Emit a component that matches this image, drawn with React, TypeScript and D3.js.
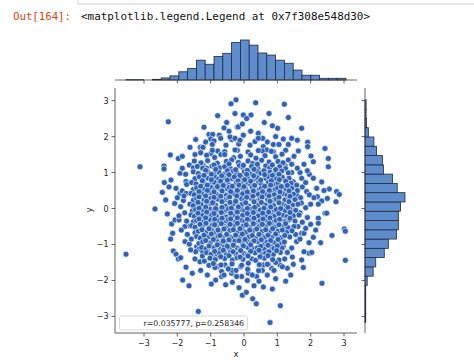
import React from 'react';
import * as d3 from 'd3';

const promptText = 'Out[164]:';
const outText = '<matplotlib.legend.Legend at 0x7f308e548d30>';
const legendText = 'r=0.035777, p=0.258346';
const xLabel = 'x';
const yLabel = 'y';

const xTicks = [-3, -2, -1, 0, 1, 2, 3];
const yTicks = [-3, -2, -1, 0, 1, 2, 3];

// marginal histograms (counts per bin)
const xHistRange = [-3.54, 3.06];
const xHistCounts = [1, 1, 0, 2, 6, 12, 24, 34, 58, 46, 69, 78, 110, 117, 102, 79, 73, 58, 49, 29, 14, 14, 5, 5, 5];
const yHistRange = [-3.17, 3.02];
const yHistCounts = [2, 2, 2, 2, 6, 22, 29, 52, 63, 85, 90, 90, 96, 108, 87, 74, 50, 47, 31, 24, 9, 4, 3, 3];

// scatter: sparse outer points
const outerPoints: [number, number][] = [
  [-3.12, 1.16], [-2.27, 2.41], [-2.67, -0.01], [-2.4, 1.18], [-2.4, 1.1], [-2.21, 1.49], [-1.97, 1.39], [-2.39, 0.72],
  [-2.19, 0.79], [-1.92, 0.98], [-2.35, 0.24], [-2.08, 0.14], [-2.25, 0.6], [-2.04, 0.56], [-1.92, 0.42], [-1.85, 0.49],
  [-1.74, 0.42], [-1.74, 0.75], [-1.72, 0.67], [-1.64, 1.21], [-1.52, 1.13], [-1.49, 1.32], [-1.47, 1.5], [-1.45, 1.92],
  [-1.31, 1.7], [-1.23, 1.7], [-1.2, 2.26], [-1.05, 2.06], [-0.94, 2.06], [-1.0, 1.93], [-0.9, 1.88], [-1.11, 1.47],
  [-0.99, 1.53], [-0.79, 2.58], [-0.74, 2.04], [-0.7, 1.95], [-0.52, 2.39], [-0.6, 2.24], [-0.39, 2.91], [-0.24, 3.02],
  [-0.27, 2.64], [-0.2, 2.26], [-0.54, 1.76], [-0.37, 1.92], [-0.16, 1.79], [-0.79, 1.6], [-0.69, 1.5], [-1.22, 1.19],
  [-1.12, 1.12], [-0.42, 1.99], [-0.27, 1.95], [-0.02, 2.04], [-0.12, 1.9], [0.18, 1.76], [0.33, 1.86], [0.58, 1.72],
  [0.68, 1.63], [0.88, 1.58],
  [0.35, 2.94], [1.21, 2.9], [-0.02, 2.6], [0.21, 2.6], [0.08, 2.5], [0.75, 2.64], [1.33, 2.53], [-0.17, 2.27],
  [-0.05, 2.35], [0.61, 2.39], [1.01, 2.23], [1.73, 2.23], [0.43, 2.09], [0.56, 1.95], [0.43, 1.95], [1.18, 1.93],
  [1.43, 1.95], [0.88, 1.78], [1.05, 1.78], [1.33, 1.78], [1.91, 1.84], [1.91, 1.72], [2.43, 1.67], [1.63, 1.6],
  [2.01, 1.46], [2.53, 1.39], [2.08, 1.3], [1.8, 1.23], [2.53, 1.16], [1.33, 1.35], [1.43, 1.23], [1.23, 1.19],
  [1.43, 1.0], [1.68, 1.0], [1.73, 0.84], [1.96, 0.95], [2.08, 0.84], [2.33, 0.74], [1.48, 0.74], [1.58, 0.65],
  [2.18, 0.56], [2.56, 0.54], [2.78, 0.47], [2.86, 0.39], [1.88, 0.47], [1.96, 0.38], [2.2, 0.33], [1.58, 0.38],
  [1.7, 0.3], [2.5, 0.28], [2.33, 0.21], [2.76, 0.19], [2.23, 0.12], [2.0, 0.12], [2.43, -0.13],
  [3.01, -0.57], [3.04, -0.63], [2.64, -0.75], [3.04, -1.44], [2.34, -2.08], [2.48, -0.13], [2.23, -0.27], [2.23, -0.41],
  [2.0, -0.44], [2.08, -0.8], [1.73, -0.69], [1.8, -0.69], [1.95, -1.24], [2.03, -1.22], [1.8, -1.2], [1.73, -1.43],
  [1.78, -1.64], [1.48, -1.55], [1.3, -1.66], [1.08, -1.57], [1.05, -1.43], [0.83, -1.66], [0.58, -2.18], [0.85, -2.24],
  [-0.05, -2.41], [0.07, -2.33], [0.26, -2.51], [0.37, -2.65], [1.09, -2.7], [0.78, -3.17], [0.38, -1.89], [0.13, -1.8],
  [-0.07, -1.89], [0.58, -1.57], [0.73, -1.55], [1.18, -1.06], [1.43, -1.1], [1.58, -0.92],
  [-3.54, -1.27], [-1.37, -2.86], [-1.84, -1.99], [-0.85, -1.99], [-2.17, -0.43], [-2.14, -0.69], [-2.07, -0.32], [-1.95, -0.32],
  [-1.77, -0.5], [-1.62, -0.48], [-1.77, -0.92], [-1.64, -0.99], [-2.12, -1.18], [-2.04, -1.27], [-1.97, -1.4], [-1.9, -1.37],
  [-1.74, -1.63], [-1.47, -1.4], [-1.32, -1.48], [-1.19, -1.46], [-0.92, -1.34], [-0.8, -1.27], [-0.8, -1.62], [-0.87, -1.64],
  [-0.57, -1.57], [-0.47, -1.66], [-0.67, -1.75], [-0.37, -1.8], [-0.22, -1.89], [-0.67, -1.89], [-0.6, -1.85],
  [-1.42, -1.06], [-1.35, -1.13], [-1.24, -1.2], [-1.1, -1.15],
  [-1.82, 0.22], [-1.9, 0.05], [-1.78, -0.12], [-1.95, -0.2], [-1.72, -0.35], [-1.88, -0.6], [-1.7, -0.72], [-1.58, -0.85],
  [-1.8, 0.35], [-2.0, 0.3], [-1.75, 0.95], [-1.85, 1.12], [-2.3, -0.15], [-2.45, 0.45], [-2.2, -0.85], [-1.45, -1.2],
  [-1.6, -1.15], [-1.25, -1.32],
  [1.72, 0.15], [1.85, 0.02], [1.68, -0.12], [1.9, -0.25], [1.75, -0.38], [1.62, -0.5], [1.85, -0.55], [1.55, -0.72],
  [1.68, -0.85], [1.95, -0.95], [1.6, 0.5], [1.75, 0.6], [1.85, 0.72], [1.6, 1.12], [1.5, 1.45], [2.15, -0.6],
  [2.3, -0.95], [2.4, 0.5], [2.1, 0.3], [1.9, 1.05],
  [1.3, -1.22], [1.45, -1.35], [1.22, -1.4], [0.95, -1.5], [1.15, -1.62], [0.9, -1.72], [0.55, -1.72], [0.7, -1.85],
  [0.25, -1.85], [0.1, -2.0], [0.45, -2.02], [-0.35, -2.05], [-0.55, -2.12], [-1.1, -1.85], [-1.3, -1.72], [-1.05, -1.58],
  [-0.98, -2.1], [0.3, -2.15], [-0.15, -2.2], [0.95, -1.95], [1.4, -1.85], [1.25, -2.02], [-1.55, -1.8], [-1.65, -2.15],
  [-0.35, -1.72], [-0.1, -1.62],
  [-1.3, 1.55], [-1.62, 1.7], [-1.85, 1.45], [-0.95, 1.78], [-1.15, 1.85], [0.7, 1.85], [0.95, 2.0], [0.2, 2.15],
  [-0.45, 2.15], [0.85, 2.3], [1.6, 1.9], [1.25, 1.62], [-0.2, 1.62], [0.55, 1.6],
];

// scatter: dense core points
const corePoints: [number, number][] = [
  [-0.95, 1.62], [-0.58, 1.58], [-0.27, 1.63], [0.12, 1.57], [0.43, 1.61], [0.82, 1.59],
  [-1.12, 1.48], [-0.88, 1.42], [-0.58, 1.5], [-0.31, 1.41], [-0.11, 1.45], [0.2, 1.49], [0.36, 1.4], [0.63, 1.47], [0.95, 1.44], [1.14, 1.51],
  [-1.29, 1.27], [-1.09, 1.33], [-0.8, 1.26], [-0.53, 1.31], [-0.37, 1.35], [-0.17, 1.28], [0.12, 1.32], [0.25, 1.25], [0.53, 1.34], [0.75, 1.29], [1.02, 1.31], [1.17, 1.27],
  [-1.4, 1.17], [-1.24, 1.12], [-0.96, 1.18], [-0.73, 1.13], [-0.58, 1.16], [-0.41, 1.11], [-0.14, 1.19], [-0.03, 1.14], [0.23, 1.17], [0.42, 1.12], [0.65, 1.18], [0.77, 1.13], [1.07, 1.16], [1.25, 1.11],
  [-1.52, 1.02], [-1.37, 0.97], [-1.1, 1.03], [-0.87, 0.98], [-0.75, 1.01], [-0.58, 0.96], [-0.32, 1.04], [-0.22, 0.99], [0.01, 1.02], [0.18, 0.97], [0.4, 1.03], [0.5, 0.98], [0.78, 1.01], [0.9, 0.96], [1.13, 1.04], [1.33, 0.99],
  [-1.47, 0.83], [-1.34, 0.88], [-1.08, 0.84], [-0.87, 0.87], [-0.76, 0.82], [-0.61, 0.86], [-0.37, 0.83], [-0.29, 0.88], [-0.06, 0.84], [0.1, 0.87], [0.3, 0.82], [0.39, 0.86], [0.65, 0.84], [0.73, 0.89], [0.97, 0.83], [1.15, 0.87], [1.35, 0.84],
  [-1.57, 0.72], [-1.44, 0.68], [-1.2, 0.71], [-1.0, 0.67], [-0.89, 0.73], [-0.75, 0.69], [-0.52, 0.7], [-0.45, 0.66], [-0.23, 0.72], [-0.08, 0.68], [0.11, 0.71], [0.2, 0.67], [0.44, 0.73], [0.51, 0.69], [0.73, 0.72], [0.9, 0.68], [1.02, 0.71], [1.27, 0.67], [1.41, 0.7],
  [-1.52, 0.53], [-1.42, 0.57], [-1.18, 0.54], [-0.98, 0.58], [-0.88, 0.52], [-0.74, 0.56], [-0.51, 0.55], [-0.44, 0.59], [-0.22, 0.53], [-0.04, 0.57], [0.05, 0.54], [0.25, 0.58], [0.45, 0.52], [0.52, 0.56], [0.74, 0.55], [0.93, 0.53], [1.01, 0.57], [1.26, 0.54], [1.43, 0.56],
  [-1.59, 0.42], [-1.49, 0.38], [-1.26, 0.41], [-1.07, 0.37], [-0.97, 0.43], [-0.83, 0.39], [-0.6, 0.4], [-0.53, 0.36], [-0.31, 0.42], [-0.13, 0.38], [-0.04, 0.41], [0.16, 0.37], [0.36, 0.43], [0.43, 0.39], [0.65, 0.4], [0.84, 0.42], [0.91, 0.38], [1.17, 0.41], [1.29, 0.37], [1.48, 0.4],
  [-1.52, 0.23], [-1.42, 0.27], [-1.2, 0.24], [-1.01, 0.28], [-0.91, 0.22], [-0.77, 0.26], [-0.54, 0.25], [-0.47, 0.29], [-0.25, 0.23], [-0.07, 0.27], [0.02, 0.24], [0.22, 0.28], [0.42, 0.22], [0.49, 0.26], [0.71, 0.25], [0.9, 0.23], [0.97, 0.27], [1.23, 0.24], [1.35, 0.28], [1.53, 0.25],
  [-1.62, 0.12], [-1.52, 0.08], [-1.29, 0.11], [-1.09, 0.07], [-0.99, 0.13], [-0.85, 0.09], [-0.62, 0.1], [-0.55, 0.06], [-0.33, 0.12], [-0.15, 0.08], [-0.06, 0.11], [0.14, 0.07], [0.34, 0.13], [0.41, 0.09], [0.63, 0.1], [0.82, 0.12], [0.89, 0.08], [1.15, 0.11], [1.27, 0.07], [1.46, 0.1], [1.62, 0.12],
  [-1.55, -0.07], [-1.45, -0.03], [-1.22, -0.06], [-1.02, -0.02], [-0.91, -0.08], [-0.77, -0.04], [-0.54, -0.05], [-0.47, -0.01], [-0.25, -0.07], [-0.07, -0.03], [0.02, -0.06], [0.22, -0.02], [0.42, -0.08], [0.49, -0.04], [0.71, -0.05], [0.9, -0.07], [0.97, -0.03], [1.23, -0.06], [1.38, -0.02], [1.55, -0.05],
  [-1.59, -0.18], [-1.49, -0.22], [-1.26, -0.19], [-1.07, -0.23], [-0.97, -0.17], [-0.83, -0.21], [-0.6, -0.2], [-0.53, -0.24], [-0.31, -0.18], [-0.13, -0.22], [-0.04, -0.19], [0.16, -0.23], [0.36, -0.17], [0.43, -0.21], [0.65, -0.2], [0.84, -0.18], [0.91, -0.22], [1.17, -0.19], [1.29, -0.23], [1.48, -0.2], [1.65, -0.18],
  [-1.52, -0.37], [-1.42, -0.33], [-1.2, -0.36], [-1.01, -0.32], [-0.91, -0.38], [-0.77, -0.34], [-0.54, -0.35], [-0.47, -0.31], [-0.25, -0.37], [-0.07, -0.33], [0.02, -0.36], [0.22, -0.32], [0.42, -0.38], [0.49, -0.34], [0.71, -0.35], [0.9, -0.37], [0.97, -0.33], [1.23, -0.36], [1.35, -0.32], [1.53, -0.35],
  [-1.57, -0.48], [-1.47, -0.52], [-1.25, -0.49], [-1.06, -0.53], [-0.96, -0.47], [-0.82, -0.51], [-0.59, -0.5], [-0.52, -0.54], [-0.3, -0.48], [-0.12, -0.52], [-0.03, -0.49], [0.17, -0.53], [0.37, -0.47], [0.44, -0.51], [0.66, -0.5], [0.85, -0.48], [0.92, -0.52], [1.18, -0.49], [1.32, -0.53], [1.5, -0.5],
  [-1.47, -0.67], [-1.37, -0.63], [-1.15, -0.66], [-0.96, -0.62], [-0.86, -0.68], [-0.72, -0.64], [-0.49, -0.65], [-0.42, -0.61], [-0.2, -0.67], [-0.02, -0.63], [0.07, -0.66], [0.27, -0.62], [0.47, -0.68], [0.54, -0.64], [0.76, -0.65], [0.95, -0.67], [1.02, -0.63], [1.28, -0.66], [1.44, -0.62],
  [-1.42, -0.78], [-1.31, -0.82], [-1.08, -0.79], [-0.88, -0.83], [-0.78, -0.77], [-0.64, -0.81], [-0.41, -0.8], [-0.34, -0.84], [-0.12, -0.78], [0.06, -0.82], [0.15, -0.79], [0.35, -0.83], [0.55, -0.77], [0.62, -0.81], [0.84, -0.8], [1.03, -0.78], [1.11, -0.82], [1.37, -0.79],
  [-1.35, -0.97], [-1.24, -0.93], [-1.01, -0.96], [-0.81, -0.92], [-0.71, -0.98], [-0.57, -0.94], [-0.34, -0.95], [-0.27, -0.91], [-0.05, -0.97], [0.13, -0.93], [0.22, -0.96], [0.42, -0.92], [0.62, -0.98], [0.69, -0.94], [0.91, -0.95], [1.1, -0.97], [1.21, -0.93],
  [-1.27, -1.08], [-1.14, -1.12], [-0.9, -1.09], [-0.7, -1.13], [-0.59, -1.07], [-0.44, -1.11], [-0.2, -1.1], [-0.12, -1.14], [0.11, -1.08], [0.3, -1.12], [0.4, -1.09], [0.61, -1.13], [0.82, -1.07], [0.9, -1.11], [1.14, -1.1],
  [-1.12, -1.23], [-0.99, -1.27], [-0.74, -1.24], [-0.53, -1.28], [-0.41, -1.22], [-0.25, -1.26], [0.0, -1.25], [0.09, -1.29], [0.33, -1.23], [0.54, -1.27], [0.65, -1.24], [0.88, -1.28], [1.09, -1.22],
  [-1.02, -1.38], [-0.86, -1.42], [-0.58, -1.39], [-0.35, -1.43], [-0.21, -1.37], [-0.03, -1.41], [0.24, -1.4], [0.35, -1.44], [0.61, -1.38], [0.86, -1.42],
  [-0.92, -1.53], [-0.69, -1.57], [-0.36, -1.54], [-0.07, -1.58], [0.13, -1.52], [0.46, -1.56], [0.7, -1.55],
  [-0.47, -1.68], [-0.24, -1.72], [0.11, -1.69], [0.44, -1.73],
];

// scatter: second, offset layer filling the densest middle
const innerPoints: [number, number][] = [
  [-0.9, 1.21], [-0.45, 1.24], [-0.02, 1.2], [0.4, 1.23], [0.85, 1.21],
  [-1.15, 1.06], [-0.85, 1.09], [-0.5, 1.05], [-0.25, 1.08], [0.1, 1.06], [0.3, 1.09], [0.6, 1.05], [0.95, 1.08],
  [-1.2, 0.92], [-0.98, 0.95], [-0.67, 0.91], [-0.45, 0.94], [-0.12, 0.92], [0.08, 0.95], [0.29, 0.91], [0.62, 0.94], [0.85, 0.92], [1.05, 0.95],
  [-1.25, 0.77], [-0.98, 0.8], [-0.7, 0.76], [-0.5, 0.79], [-0.18, 0.77], [0.02, 0.8], [0.2, 0.76], [0.5, 0.79], [0.82, 0.77], [1.06, 0.8], [1.25, 0.76],
  [-1.3, 0.62], [-1.1, 0.65], [-0.8, 0.61], [-0.62, 0.64], [-0.35, 0.62], [-0.15, 0.65], [0.0, 0.61], [0.32, 0.64], [0.62, 0.62], [0.8, 0.65], [1.12, 0.61], [1.3, 0.64],
  [-1.35, 0.47], [-1.1, 0.5], [-0.9, 0.46], [-0.66, 0.49], [-0.4, 0.47], [-0.2, 0.5], [0.1, 0.46], [0.28, 0.49], [0.56, 0.47], [0.76, 0.5], [1.08, 0.46], [1.35, 0.49],
  [-1.35, 0.32], [-1.15, 0.35], [-0.9, 0.31], [-0.7, 0.34], [-0.43, 0.32], [-0.22, 0.35], [0.08, 0.31], [0.27, 0.34], [0.54, 0.32], [0.75, 0.35], [1.05, 0.31], [1.38, 0.34],
  [-1.38, 0.17], [-1.12, 0.2], [-0.94, 0.16], [-0.66, 0.19], [-0.42, 0.17], [-0.25, 0.2], [0.05, 0.16], [0.3, 0.19], [0.52, 0.17], [0.78, 0.2], [1.05, 0.16], [1.35, 0.19],
  [-1.35, 0.01], [-1.15, 0.04], [-0.85, 0.0], [-0.66, 0.03], [-0.38, 0.01], [-0.17, 0.04], [0.1, 0.0], [0.32, 0.03], [0.6, 0.01], [0.8, 0.04], [1.1, 0.0], [1.32, 0.03],
  [-1.38, -0.13], [-1.12, -0.1], [-0.9, -0.14], [-0.68, -0.11], [-0.4, -0.13], [-0.2, -0.1], [0.1, -0.14], [0.28, -0.11], [0.56, -0.13], [0.74, -0.1], [1.04, -0.14], [1.38, -0.11],
  [-1.35, -0.29], [-1.15, -0.26], [-0.88, -0.3], [-0.66, -0.27], [-0.4, -0.29], [-0.2, -0.26], [0.1, -0.3], [0.3, -0.27], [0.57, -0.29], [0.78, -0.26], [1.07, -0.3], [1.38, -0.27],
  [-1.32, -0.44], [-1.14, -0.41], [-0.88, -0.45], [-0.68, -0.42], [-0.42, -0.44], [-0.2, -0.41], [0.07, -0.45], [0.28, -0.42], [0.55, -0.44], [0.76, -0.41], [1.05, -0.45], [1.25, -0.42],
  [-1.26, -0.59], [-1.05, -0.56], [-0.78, -0.6], [-0.6, -0.57], [-0.32, -0.59], [-0.12, -0.56], [0.17, -0.6], [0.38, -0.57], [0.65, -0.59], [0.86, -0.56], [1.15, -0.6],
  [-1.2, -0.74], [-0.98, -0.71], [-0.72, -0.75], [-0.52, -0.72], [-0.25, -0.74], [-0.05, -0.71], [0.25, -0.75], [0.45, -0.72], [0.72, -0.74], [0.95, -0.71], [1.22, -0.75],
  [-1.15, -0.89], [-0.92, -0.86], [-0.62, -0.9], [-0.45, -0.87], [-0.15, -0.89], [0.03, -0.86], [0.3, -0.9], [0.52, -0.87], [0.8, -0.89], [1.02, -0.86],
  [-1.05, -1.04], [-0.8, -1.01], [-0.5, -1.05], [-0.32, -1.02], [-0.02, -1.04], [0.2, -1.01], [0.5, -1.05], [0.72, -1.02], [1.0, -1.04],
  [-0.88, -1.19], [-0.62, -1.16], [-0.33, -1.2], [-0.1, -1.17], [0.2, -1.19], [0.45, -1.16], [0.75, -1.2], [0.98, -1.17],
  [-0.7, -1.34], [-0.45, -1.31], [-0.12, -1.35], [0.12, -1.32], [0.48, -1.34], [0.72, -1.31],
];

const DOT = '#2f62b4';
const BAR = '#5f8ccb';
const BAR_EDGE = '#1c2b45';
const INK = '#262626';
const SPINE = '#3c3c3c';

export default function App() {
  const W = 474;
  const H = 364;

  const x = d3.scaleLinear().domain([-3.87, 3.39]).range([115, 357]);
  const y = d3.scaleLinear().domain([-3.46, 3.35]).range([333, 88]);
  const topH = d3.scaleLinear().domain([0, (d3.max(xHistCounts) as number) * 1.05]).range([80, 38]);
  const rightW = d3.scaleLinear().domain([0, (d3.max(yHistCounts) as number) * 1.05]).range([365, 407]);

  const xBinW = (xHistRange[1] - xHistRange[0]) / xHistCounts.length;
  const yBinW = (yHistRange[1] - yHistRange[0]) / yHistCounts.length;

  const allPoints = [...outerPoints, ...corePoints, ...innerPoints];
  const fmt = (v: number) => (v < 0 ? '\u2212' + Math.abs(v) : String(v));

  const font = "'DejaVu Sans', sans-serif";
  const mono = "'DejaVu Sans Mono', monospace";

  return (
    <svg width={W} height={H} viewBox={`0 0 ${W} ${H}`}
      style={{ position: 'absolute', left: 0, top: 0, background: '#fff' }}>
      <rect x={0} y={0} width={W} height={H} fill="#fff" />
      {/* notebook chrome */}
      <line x1={78} y1={0} x2={78} y2={4} stroke="#cfcfcf" strokeWidth={1} />
      <line x1={78} y1={4} x2={W} y2={4} stroke="#cfcfcf" strokeWidth={1} />
      <text x={13} y={20} fontFamily={mono} fontSize={11} fill="#d84315" textLength={58} lengthAdjust="spacingAndGlyphs">{promptText}</text>
      <text x={81} y={20} fontFamily={mono} fontSize={11} fill="#111" textLength={289} lengthAdjust="spacingAndGlyphs">{outText}</text>

      {/* top marginal histogram */}
      <g>
        {xHistCounts.map((c, i) => {
          const x0 = x(xHistRange[0] + i * xBinW);
          const x1 = x(xHistRange[0] + (i + 1) * xBinW);
          if (c === 0) return null;
          return <rect key={i} x={x0} y={topH(c)} width={x1 - x0} height={topH(0) - topH(c)}
            fill={BAR} stroke={BAR_EDGE} strokeWidth={0.8} />;
        })}
        <line x1={115} y1={80} x2={357} y2={80} stroke={SPINE} strokeWidth={0.8} />
        {xTicks.map(t => (
          <line key={t} x1={x(t)} x2={x(t)} y1={80} y2={83.5} stroke={SPINE} strokeWidth={0.8} />
        ))}
      </g>

      {/* right marginal histogram */}
      <g>
        {yHistCounts.map((c, i) => {
          const y0 = y(yHistRange[0] + i * yBinW);
          const y1 = y(yHistRange[0] + (i + 1) * yBinW);
          if (c === 0) return null;
          return <rect key={i} x={rightW(0)} y={y1} width={rightW(c) - rightW(0)} height={y0 - y1}
            fill={BAR} stroke={BAR_EDGE} strokeWidth={0.8} />;
        })}
        <line x1={365} y1={88} x2={365} y2={333} stroke={SPINE} strokeWidth={0.8} />
        {yTicks.map(t => (
          <line key={t} x1={361.5} x2={365} y1={y(t)} y2={y(t)} stroke={SPINE} strokeWidth={0.8} />
        ))}
      </g>

      {/* main scatter */}
      <g>
        {allPoints.map(([px, py], i) => (
          <circle key={i} cx={x(px)} cy={y(py)} r={3} fill={DOT} stroke="#fff" strokeWidth={0.6} />
        ))}
      </g>

      {/* axes */}
      <line x1={115} y1={88} x2={115} y2={333} stroke={SPINE} strokeWidth={0.8} />
      <line x1={115} y1={333} x2={357} y2={333} stroke={SPINE} strokeWidth={0.8} />
      {xTicks.map(t => (
        <g key={t}>
          <line x1={x(t)} x2={x(t)} y1={333} y2={336.5} stroke={SPINE} strokeWidth={0.8} />
          <text x={x(t)} y={346} textAnchor="middle" fontFamily={font} fontSize={8} fill={INK}>{fmt(t)}</text>
        </g>
      ))}
      {yTicks.map(t => (
        <g key={t}>
          <line x1={111.5} x2={115} y1={y(t)} y2={y(t)} stroke={SPINE} strokeWidth={0.8} />
          <text x={108.5} y={y(t) + 3} textAnchor="end" fontFamily={font} fontSize={8} fill={INK}>{fmt(t)}</text>
        </g>
      ))}
      <text x={236} y={357} textAnchor="middle" fontFamily={font} fontSize={8.5} fill={INK}>{xLabel}</text>
      <text transform={`translate(92,210) rotate(-90)`} textAnchor="middle" fontFamily={font} fontSize={8.5} fill={INK}>{yLabel}</text>

      {/* legend */}
      <rect x={119.5} y={316} width={128} height={14} rx={2} ry={2} fill="#fff" fillOpacity={0.8} stroke="#d0d0d0" strokeWidth={0.8} />
      <text x={143.5} y={326} fontFamily={font} fontSize={7.8} fill={INK}>{legendText}</text>
    </svg>
  );
}
